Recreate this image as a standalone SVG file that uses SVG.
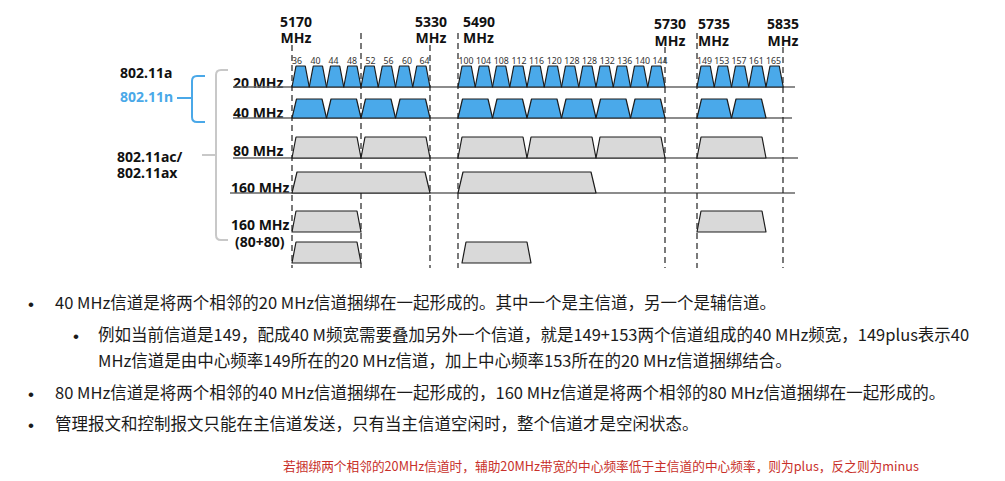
<svg xmlns="http://www.w3.org/2000/svg" xmlns:xlink="http://www.w3.org/1999/xlink" width="1005" height="481" viewBox="0 0 1005 481">
  <style>
    .freq { font-family: "Noto Sans", "Liberation Sans", sans-serif; font-weight: bold; font-size: 14px; fill: #111; }
    .freqc { text-anchor: middle; }
    .std { font-family: "Noto Sans", "Liberation Sans", sans-serif; font-weight: bold; font-size: 14px; fill: #111; }
    .std-n { fill: #4aa8e8; }
    .bw { font-family: "Noto Sans", "Liberation Sans", sans-serif; font-weight: bold; font-size: 14px; fill: #111; }
    .ch { font-family: "Noto Sans", "Liberation Sans", sans-serif; font-size: 8.8px; fill: #333; text-anchor: middle; }
    .base { stroke: #666; stroke-width: 1.3; fill: none; }
    .dash { stroke: #222; stroke-width: 1.2; stroke-dasharray: 6 4; fill: none; }
    .blue { fill: #4aa9ea; stroke: #1c1c1c; stroke-width: 1.2; stroke-linejoin: round; }
    .grey { fill: #d9d9d9; stroke: #1c1c1c; stroke-width: 1.2; stroke-linejoin: round; }
    .body { font-family: "Noto Sans CJK SC", "Noto Sans", sans-serif; font-size: 16.5px; fill: #1a1a1a; }
    .dot { font-family: "Liberation Sans", sans-serif; font-size: 17px; fill: #1a1a1a; }
    .note { font-family: "Noto Sans CJK SC", "Noto Sans", sans-serif; font-size: 12.7px; fill: #c8302a; text-anchor: middle; }
  </style>
  <defs>
    <!-- channel shapes, each drawn from its lower-left corner offset by its height -->
    <path id="t20" d="M0,21 L4,0 L13.25,0 L17.25,21 Z"/>
    <path id="t40" d="M0,19 L4.5,0 L30,0 L34.5,19 Z"/>
    <path id="t80" d="M0,21 L4,0 L65,0 L69,21 Z"/>
    <path id="t160" d="M0,21 L5,0 L133,0 L138,21 Z"/>
  </defs>

  <rect width="1005" height="481" fill="#fff"/>

  <!-- frequency markers -->
  <g id="freq-labels">
    <text class="freq freqc" x="296" y="27">5170</text>
    <text class="freq freqc" x="296" y="43">MHz</text>
    <text class="freq freqc" x="431" y="27">5330</text>
    <text class="freq freqc" x="431" y="43">MHz</text>
    <text class="freq" x="463" y="27">5490</text>
    <text class="freq" x="463" y="43">MHz</text>
    <text class="freq freqc" x="670" y="29">5730</text>
    <text class="freq freqc" x="670" y="46">MHz</text>
    <text class="freq" x="698" y="29">5735</text>
    <text class="freq" x="698" y="46">MHz</text>
    <text class="freq freqc" x="783" y="29">5835</text>
    <text class="freq freqc" x="783" y="46">MHz</text>
  </g>

  <!-- standards and their brackets -->
  <g id="standards">
    <text class="std" x="120" y="78">802.11a</text>
    <text class="std std-n" x="120" y="102">802.11n</text>
    <path d="M205,76 L197,76 Q192,76 192,81 L192,117 Q192,122 197,122 L205,122 M177,98 L192,98" fill="none" stroke="#4aa8e8" stroke-width="2"/>
    <text class="std" x="117" y="162">802.11ac/</text>
    <text class="std" x="117" y="178">802.11ax</text>
    <path d="M228,70 L221,70 Q216,70 216,75 L216,235 Q216,240 221,240 L228,240 M202,155 L216,155" fill="none" stroke="#c8c8c8" stroke-width="2"/>
  </g>

  <!-- bandwidth row labels -->
  <g id="bandwidths">
    <text class="bw" x="233" y="88">20 MHz</text>
    <text class="bw" x="233" y="118">40 MHz</text>
    <text class="bw" x="233" y="156">80 MHz</text>
    <text class="bw" x="231" y="193">160 MHz</text>
    <text class="bw" x="231" y="230">160 MHz</text>
    <text class="bw" x="235" y="247">(80+80)</text>
  </g>

  <!-- axis lines and band boundaries -->
  <g id="connectors">
    <line class="base" x1="233" y1="87" x2="795" y2="87"/>
    <line class="base" x1="233" y1="118" x2="792" y2="118"/>
    <line class="base" x1="233" y1="158" x2="798" y2="158"/>
    <line class="base" x1="230" y1="193" x2="795" y2="193"/>
    <line class="dash" x1="292" y1="45" x2="292" y2="268"/>
    <line class="dash" x1="361" y1="33" x2="361" y2="268"/>
    <line class="dash" x1="430" y1="45" x2="430" y2="268"/>
    <line class="dash" x1="458" y1="33" x2="458" y2="268"/>
    <line class="dash" x1="665" y1="47" x2="665" y2="268"/>
    <line class="dash" x1="697" y1="33" x2="697" y2="268"/>
    <line class="dash" x1="783" y1="47" x2="783" y2="268"/>
  </g>

  <!-- channel numbers -->
  <g id="channel-numbers">
    <text class="ch" x="297" y="64">36</text>
    <text class="ch" x="315.5" y="64">40</text>
    <text class="ch" x="333.5" y="64">44</text>
    <text class="ch" x="352" y="64">48</text>
    <text class="ch" x="370.5" y="64">52</text>
    <text class="ch" x="388.5" y="64">56</text>
    <text class="ch" x="407" y="64">60</text>
    <text class="ch" x="424.5" y="64">64</text>
    <text class="ch" x="466" y="64">100</text>
    <text class="ch" x="483.6" y="64">104</text>
    <text class="ch" x="501.3" y="64">108</text>
    <text class="ch" x="519" y="64">112</text>
    <text class="ch" x="536.6" y="64">116</text>
    <text class="ch" x="554.2" y="64">120</text>
    <text class="ch" x="571.9" y="64">128</text>
    <text class="ch" x="589.5" y="64">128</text>
    <text class="ch" x="607.2" y="64">132</text>
    <text class="ch" x="624.8" y="64">136</text>
    <text class="ch" x="642.5" y="64">140</text>
    <text class="ch" x="660" y="64">144</text>
    <text class="ch" x="704.5" y="64">149</text>
    <text class="ch" x="721.8" y="64">153</text>
    <text class="ch" x="739" y="64">157</text>
    <text class="ch" x="756.3" y="64">161</text>
    <text class="ch" x="773.5" y="64">165</text>
  </g>

  <!-- 20 MHz channels -->
  <g id="row-20mhz" class="blue">
    <use href="#t20" x="292" y="66"/>
    <use href="#t20" x="309.25" y="66"/>
    <use href="#t20" x="326.5" y="66"/>
    <use href="#t20" x="343.75" y="66"/>
    <use href="#t20" x="361" y="66"/>
    <use href="#t20" x="378.25" y="66"/>
    <use href="#t20" x="395.5" y="66"/>
    <use href="#t20" x="412.75" y="66"/>
    <use href="#t20" x="458" y="66"/>
    <use href="#t20" x="475.25" y="66"/>
    <use href="#t20" x="492.5" y="66"/>
    <use href="#t20" x="509.75" y="66"/>
    <use href="#t20" x="527" y="66"/>
    <use href="#t20" x="544.25" y="66"/>
    <use href="#t20" x="561.5" y="66"/>
    <use href="#t20" x="578.75" y="66"/>
    <use href="#t20" x="596" y="66"/>
    <use href="#t20" x="613.25" y="66"/>
    <use href="#t20" x="630.5" y="66"/>
    <use href="#t20" x="647.75" y="66"/>
    <use href="#t20" x="697" y="66"/>
    <use href="#t20" x="714.25" y="66"/>
    <use href="#t20" x="731.5" y="66"/>
    <use href="#t20" x="748.75" y="66"/>
    <use href="#t20" x="766" y="66"/>
  </g>

  <!-- 40 MHz channels -->
  <g id="row-40mhz" class="blue">
    <use href="#t40" x="292" y="99"/>
    <use href="#t40" x="326.5" y="99"/>
    <use href="#t40" x="361" y="99"/>
    <use href="#t40" x="395.5" y="99"/>
    <use href="#t40" x="458" y="99"/>
    <use href="#t40" x="492.5" y="99"/>
    <use href="#t40" x="527" y="99"/>
    <use href="#t40" x="561.5" y="99"/>
    <use href="#t40" x="596" y="99"/>
    <use href="#t40" x="630.5" y="99"/>
    <use href="#t40" x="697" y="99"/>
    <use href="#t40" x="731.5" y="99"/>
  </g>

  <!-- 80 MHz channels -->
  <g id="row-80mhz" class="grey">
    <use href="#t80" x="292" y="137"/>
    <use href="#t80" x="361" y="137"/>
    <use href="#t80" x="458" y="137"/>
    <use href="#t80" x="527" y="137"/>
    <use href="#t80" x="596" y="137"/>
    <use href="#t80" x="697" y="137"/>
  </g>

  <!-- 160 MHz channels -->
  <g id="row-160mhz" class="grey">
    <use href="#t160" x="292" y="172"/>
    <use href="#t160" x="458" y="172"/>
  </g>

  <!-- 160 MHz built from two 80 MHz segments -->
  <g id="row-80plus80" class="grey">
    <use href="#t80" x="292" y="211"/>
    <use href="#t80" x="697" y="211"/>
    <use href="#t80" x="292" y="242"/>
    <use href="#t80" x="462" y="242"/>
  </g>

  <!-- explanatory notes -->
  <g id="notes">
    <text class="dot" x="28" y="310">•</text>
    <text class="body" x="55" y="309">40 MHz信道是将两个相邻的20 MHz信道捆绑在一起形成的。其中一个是主信道，另一个是辅信道。</text>
    <text class="dot" x="73" y="342">•</text>
    <text class="body" x="98" y="341">例如当前信道是149，配成40 M频宽需要叠加另外一个信道，就是149+153两个信道组成的40 MHz频宽，149plus表示40</text>
    <text class="body" x="98" y="367">MHz信道是由中心频率149所在的20 MHz信道，加上中心频率153所在的20 MHz信道捆绑结合。</text>
    <text class="dot" x="28" y="400">•</text>
    <text class="body" x="55" y="399">80 MHz信道是将两个相邻的40 MHz信道捆绑在一起形成的，160 MHz信道是将两个相邻的80 MHz信道捆绑在一起形成的。</text>
    <text class="dot" x="28" y="431">•</text>
    <text class="body" x="55" y="430">管理报文和控制报文只能在主信道发送，只有当主信道空闲时，整个信道才是空闲状态。</text>
    <text class="note" x="601" y="471">若捆绑两个相邻的20MHz信道时，辅助20MHz带宽的中心频率低于主信道的中心频率，则为plus，反之则为minus</text>
  </g>
</svg>
